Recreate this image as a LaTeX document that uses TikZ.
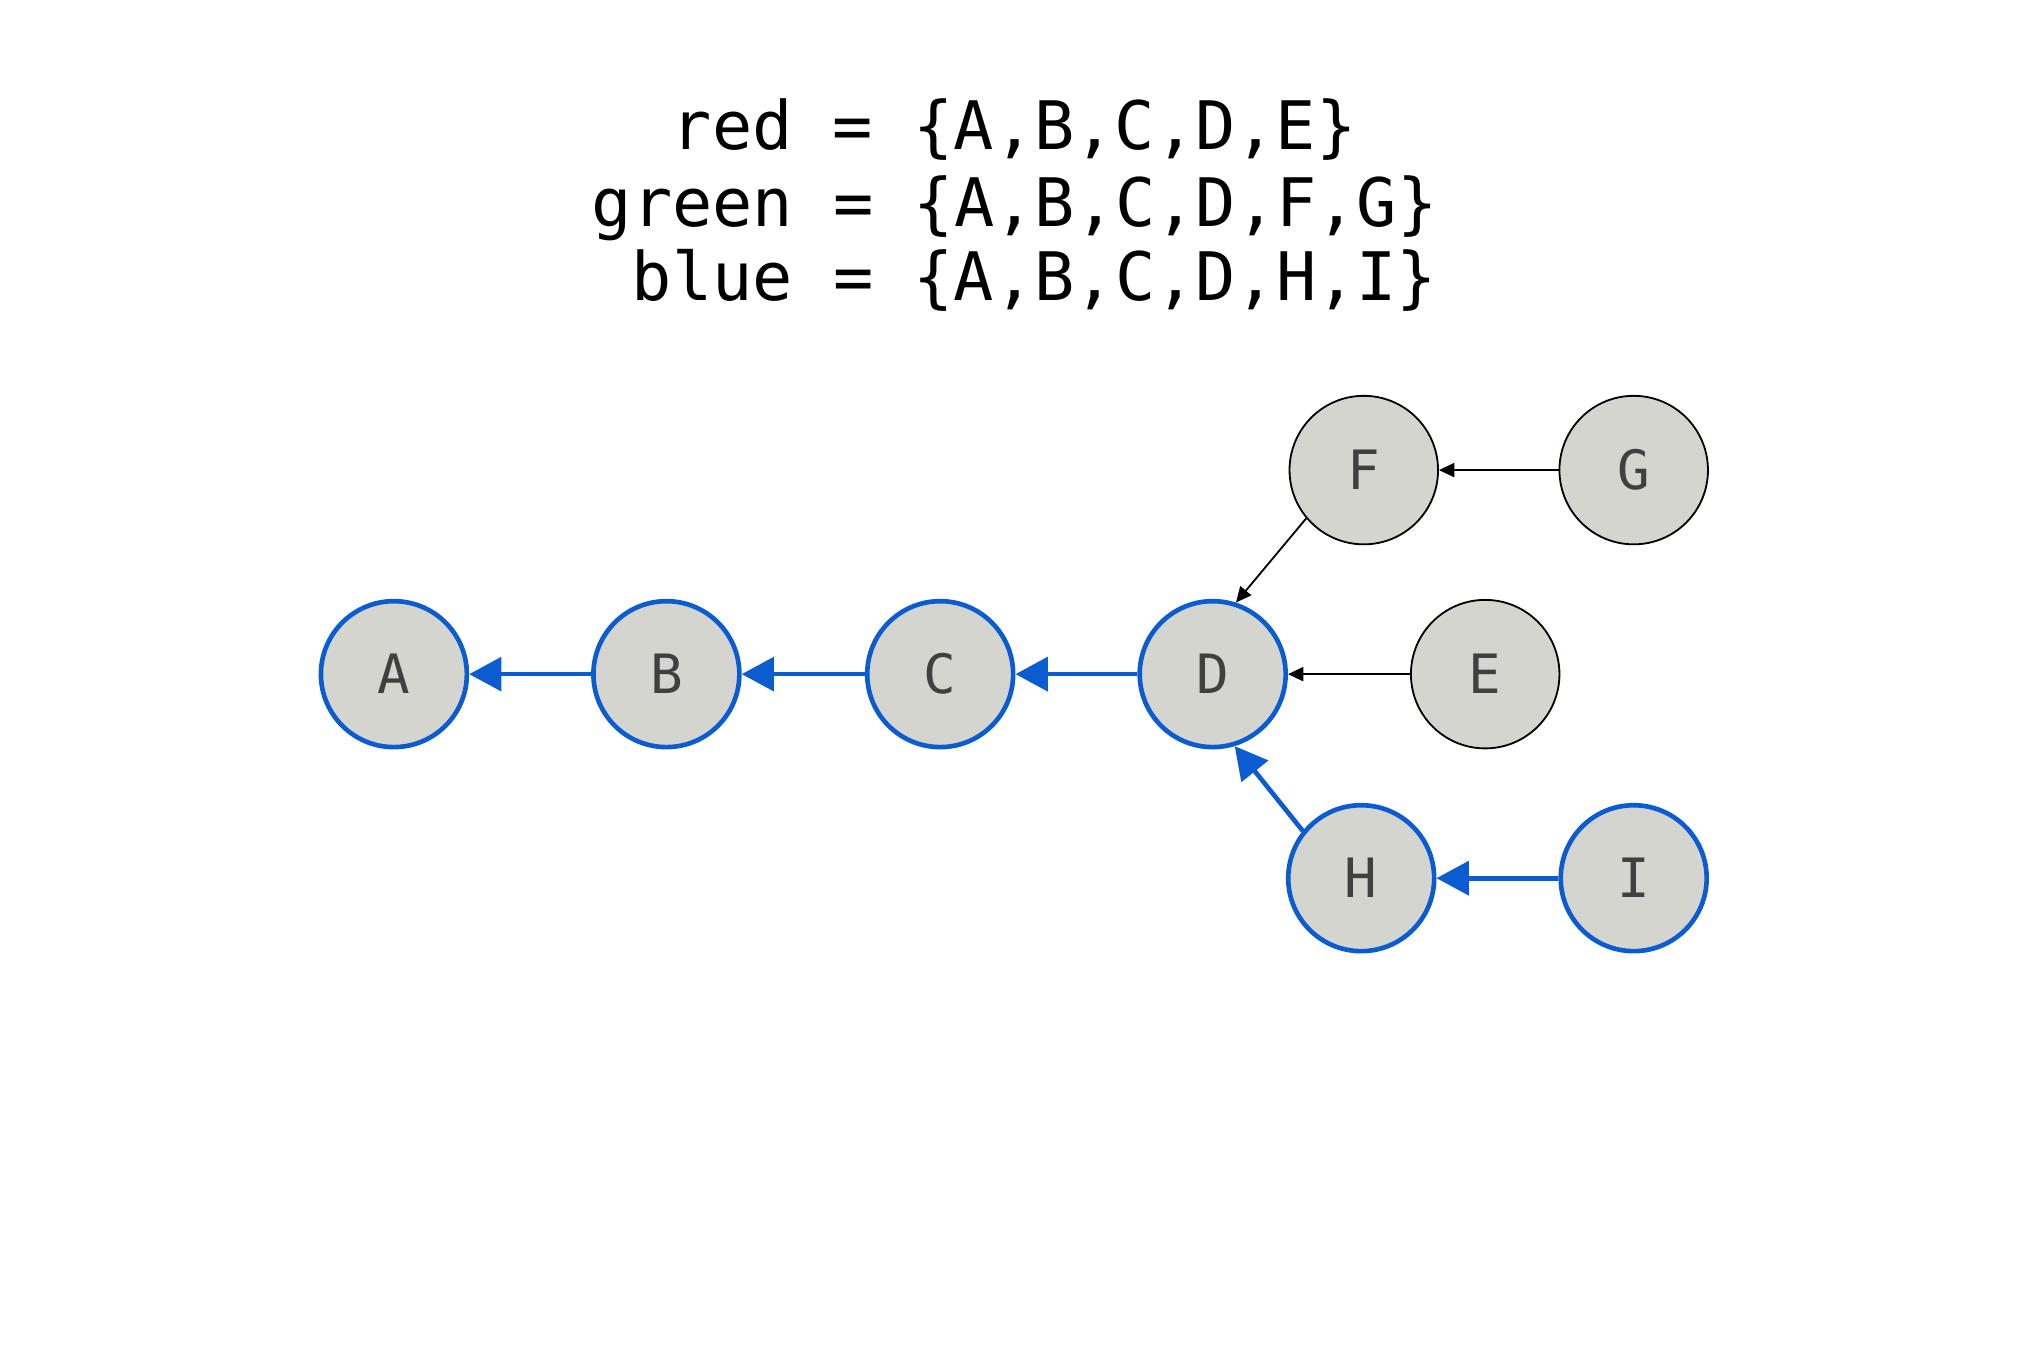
\documentclass[tikz,border=0pt]{standalone}
\usepackage{fontspec}
\setmonofont{DejaVu Sans Mono}
\usetikzlibrary{arrows.meta}
\definecolor{nodefill}{RGB}{213,213,208}
\definecolor{blueline}{RGB}{10,92,208}
\definecolor{labelgray}{RGB}{64,64,64}
\begin{document}
\begin{tikzpicture}[x=1pt,y=-1pt,
  vtx/.style={circle, inner sep=0pt, minimum size=113pt, fill=nodefill, font=\ttfamily\fontsize{42}{42}\selectfont, text=labelgray},
  bluevtx/.style={vtx, draw=blueline, line width=3.6pt},
  blackvtx/.style={vtx, draw=black, line width=1.4pt, minimum size=115pt},
  bluearrow/.style={draw=blueline, line width=3.6pt, -{Triangle[length=25pt,width=26pt]}},
  blackarrow/.style={draw=black, line width=1.4pt, -{Triangle[length=12pt,width=11pt]}},
  setline/.style={anchor=base west, inner sep=0pt, font=\ttfamily\fontsize{51.8}{51.8}\selectfont}
]
\useasboundingbox (0,0) rectangle (1568,1045.33);
\node[setline] (l1) at (520,116) {red = \{A,B,C,D,E\}};
\node[setline] (l2) at (458,175) {green = \{A,B,C,D,F,G\}};
\node[setline] (l3) at (489,233) {blue = \{A,B,C,D,H,I\}};

\node[bluevtx] (A) at (305,522) {A};
\node[bluevtx] (B) at (516,522) {B};
\node[bluevtx] (C) at (728,522) {C};
\node[bluevtx] (D) at (939,522) {D};
\node[blackvtx] (E) at (1150,522) {E};
\node[blackvtx] (F) at (1056,364) {F};
\node[blackvtx] (G) at (1265,364) {G};
\node[bluevtx] (H) at (1054,680) {H};
\node[bluevtx] (I) at (1265,680) {I};

\draw[bluearrow] (B) -- (A);
\draw[bluearrow] (C) -- (B);
\draw[bluearrow] (D) -- (C);
\draw[blackarrow] (E) -- (D);
\draw[blackarrow] (G) -- (F);
\draw[blackarrow] (F.220) -- (D.72);
\draw[bluearrow] (H.141) -- (D.287);
\draw[bluearrow] (I) -- (H);
\end{tikzpicture}
\end{document}
